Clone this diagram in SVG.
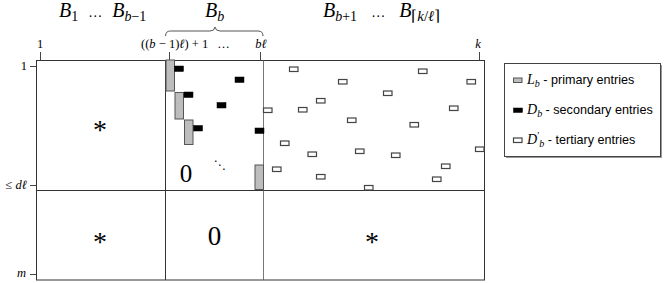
<svg xmlns="http://www.w3.org/2000/svg" width="664" height="283" viewBox="0 0 664 283">
<style>
.m{font-family:"Liberation Serif","DejaVu Serif",serif;fill:#000}
.i{font-style:italic}
.s{font-family:"Liberation Sans","DejaVu Sans",sans-serif;fill:#000}
.ln{stroke:#333;stroke-width:1;fill:none}
.tk{stroke:#444;stroke-width:1}
.p{fill:#bdbdbd;stroke:#555;stroke-width:1}
.d{fill:#000;stroke:#000;stroke-width:0.5}
.t{fill:#fff;stroke:#444;stroke-width:1.2}
</style>
<rect width="664" height="283" fill="#fff"/>
<g id="headers" class="m" font-size="20">
<text x="59" y="17"><tspan class="i">B</tspan><tspan font-size="14" dy="4">1</tspan><tspan dy="-4" dx="10" font-size="14">…</tspan><tspan dx="10" class="i">B</tspan><tspan font-size="14" dy="4"><tspan class="i">b</tspan>−1</tspan></text>
<text x="205" y="17"><tspan class="i">B</tspan><tspan font-size="14" dy="4" class="i">b</tspan></text>
<text x="323" y="17"><tspan class="i">B</tspan><tspan font-size="14" dy="4"><tspan class="i">b</tspan>+1</tspan><tspan dy="-4" dx="14" font-size="14">…</tspan><tspan dx="14" class="i">B</tspan><tspan font-size="15" dy="4">⌈<tspan class="i">k</tspan>/<tspan class="i">ℓ</tspan>⌉</tspan></text>
</g>
<g id="brace">
<path d="M165.5,36 Q165.5,31 170.5,31 L210,31 Q214.5,31 215,27 Q215.5,31 220,31 L258,31 Q263,31 263,36" fill="none" stroke="#555" stroke-width="1"/>
</g>
<g id="col-labels" class="m" font-size="12.5">
<text x="40" y="48" text-anchor="middle">1</text>
<text x="141" y="48">((<tspan class="i">b</tspan> − 1)<tspan class="i">ℓ</tspan>) + 1<tspan dx="9">…</tspan></text>
<text x="261" y="48" text-anchor="middle" class="i">bℓ</text>
<text x="478" y="48" text-anchor="middle" class="i">k</text>
</g>
<g id="row-labels" class="m" font-size="12.5">
<text x="27" y="70" text-anchor="end">1</text>
<text x="27" y="189" text-anchor="end">≤ <tspan class="i">dℓ</tspan></text>
<text x="26" y="277" text-anchor="end" class="i">m</text>
</g>
<g id="ticks">
<line class="tk" x1="40.5" y1="52" x2="40.5" y2="60"/>
<line class="tk" x1="169.5" y1="52" x2="169.5" y2="60"/>
<line class="tk" x1="260.5" y1="52" x2="260.5" y2="60"/>
<line class="tk" x1="479.5" y1="52" x2="479.5" y2="60"/>
<line class="tk" x1="30" y1="66.5" x2="36" y2="66.5"/>
<line class="tk" x1="30" y1="185.5" x2="36" y2="185.5"/>
<line class="tk" x1="30" y1="274.5" x2="36" y2="274.5"/>
</g>
<g id="matrix">
<rect class="ln" x="36.5" y="60.5" width="448" height="219.5"/>
<line class="ln" x1="36.5" y1="190.5" x2="484.5" y2="190.5"/>
<line class="ln" x1="165.5" y1="60.5" x2="165.5" y2="280"/>
<line x1="263.5" y1="60.5" x2="263.5" y2="280" stroke="#555" stroke-width="0.8"/>
</g>
<g id="primary">
<rect class="p" x="166" y="60" width="8.5" height="31"/>
<rect class="p" x="175" y="92.5" width="8.5" height="26.5"/>
<rect class="p" x="184.5" y="120" width="8.5" height="24.5"/>
<rect class="p" x="255" y="165" width="8.5" height="24.5"/>
</g>
<g id="secondary">
<rect class="d" x="174.5" y="66" width="9" height="5.5"/>
<rect class="d" x="235" y="77" width="9" height="5.5"/>
<rect class="d" x="184" y="92" width="9" height="5.5"/>
<rect class="d" x="217" y="102.5" width="9" height="5.5"/>
<rect class="d" x="193.5" y="125.5" width="9" height="5.5"/>
<rect class="d" x="255" y="128" width="9" height="5.5"/>
</g>
<g id="tertiary">
<rect class="t" x="289.5" y="67" width="8.5" height="4.5"/>
<rect class="t" x="418.5" y="69" width="8.5" height="4.5"/>
<rect class="t" x="338.5" y="79.5" width="8.5" height="4.5"/>
<rect class="t" x="467" y="79.5" width="8.5" height="4.5"/>
<rect class="t" x="383.5" y="91" width="8.5" height="4.5"/>
<rect class="t" x="316.5" y="98.5" width="8.5" height="4.5"/>
<rect class="t" x="263.5" y="108" width="8.5" height="4.5"/>
<rect class="t" x="298.5" y="107.5" width="8.5" height="4.5"/>
<rect class="t" x="449.5" y="106" width="8.5" height="4.5"/>
<rect class="t" x="347.5" y="118" width="8.5" height="4.5"/>
<rect class="t" x="410" y="122.5" width="8.5" height="4.5"/>
<rect class="t" x="280.5" y="141" width="8.5" height="4.5"/>
<rect class="t" x="308" y="152" width="8.5" height="4.5"/>
<rect class="t" x="355.5" y="149" width="8.5" height="4.5"/>
<rect class="t" x="391.5" y="153" width="8.5" height="4.5"/>
<rect class="t" x="475.5" y="147" width="8.5" height="4.5"/>
<rect class="t" x="272.5" y="167" width="8.5" height="4.5"/>
<rect class="t" x="441.5" y="164" width="8.5" height="4.5"/>
<rect class="t" x="316.5" y="174.5" width="8.5" height="4.5"/>
<rect class="t" x="432.5" y="177" width="8.5" height="4.5"/>
<rect class="t" x="364.5" y="185.5" width="8.5" height="4.5"/>
</g>
<g id="block-symbols" class="m" text-anchor="middle">
<text x="100" y="139" font-size="28">*</text>
<text x="100" y="251" font-size="28">*</text>
<text x="372" y="251" font-size="28">*</text>
<text x="186" y="182" font-size="25">0</text>
<text x="214.5" y="245" font-size="27">0</text>
<text x="219.5" y="169" font-size="12" font-family="DejaVu Sans, sans-serif" fill="#000">⋱</text>
</g>
<g id="legend">
<rect x="506" y="65" width="156" height="93" fill="#999"/>
<rect x="504.5" y="63.5" width="156" height="93" fill="#fff" stroke="#444" stroke-width="1"/>
<rect class="p" x="513.5" y="78" width="8.5" height="4.5"/>
<rect class="d" x="513.5" y="108" width="9" height="4.5"/>
<rect class="t" x="513.5" y="138" width="8.5" height="4.5"/>
<text class="s" x="527" y="84" font-size="12.6"><tspan class="m i" font-size="14">L</tspan><tspan class="m i" font-size="10" dy="3">b</tspan><tspan dy="-3"> - primary entries</tspan></text>
<text class="s" x="527" y="114" font-size="12.6"><tspan class="m i" font-size="14">D</tspan><tspan class="m i" font-size="10" dy="3">b</tspan><tspan dy="-3"> - secondary entries</tspan></text>
<text class="s" x="527" y="144" font-size="12.6"><tspan class="m i" font-size="14">D</tspan><tspan class="m" font-size="10" dy="-5">′</tspan><tspan class="m i" font-size="10" dy="8">b</tspan><tspan dy="-3"> - tertiary entries</tspan></text>
</g>
</svg>
